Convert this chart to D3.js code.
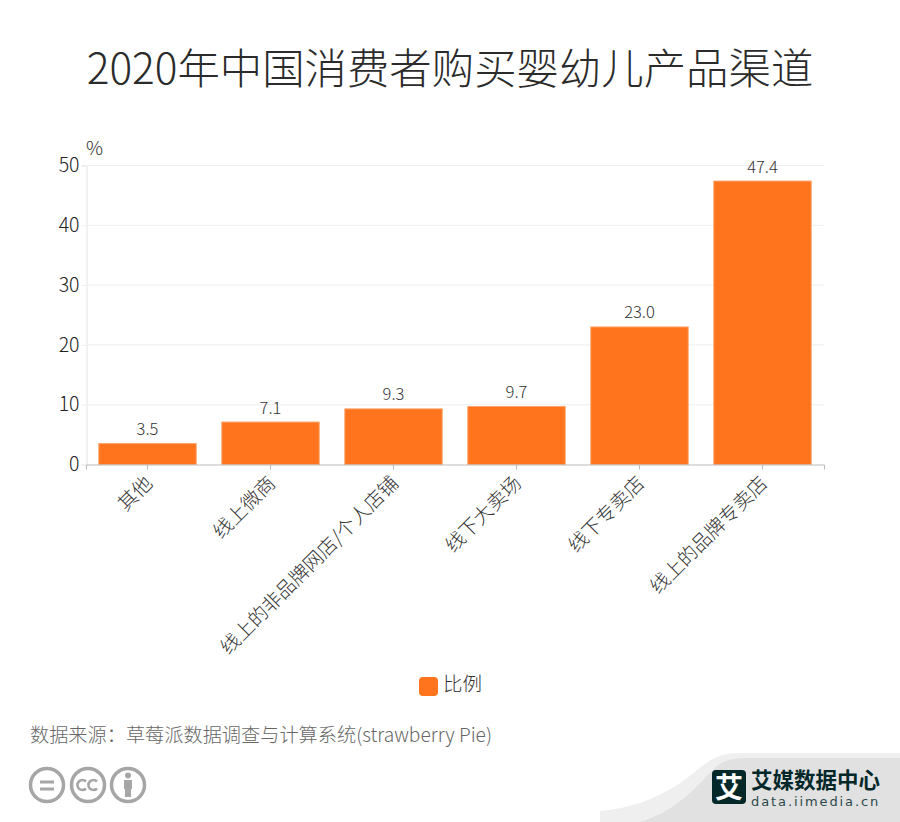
<!DOCTYPE html>
<html lang="zh-CN">
<head>
  <meta charset="UTF-8">
  <title>2020年中国消费者购买婴幼儿产品渠道</title>
  <script src="https://d3js.org/d3.v7.min.js"></script>
  <style>
    html, body { margin: 0; padding: 0; background: #fff; }
    svg { display: block; }
    text { font-family: "Noto Sans CJK SC", "Noto Sans", sans-serif; font-weight: 300; }
  </style>
</head>
<body>
  <svg width="900" height="822"></svg>

  <script>
    const categories = ["其他", "线上微商", "线上的非品牌网店/个人店铺", "线下大卖场", "线下专卖店", "线上的品牌专卖店"];
    const values = [3.5, 7.1, 9.3, 9.7, 23.0, 47.4];
    const yTicks = [0, 10, 20, 30, 40, 50];
    const seriesName = "比例";

    const orange = "#ff741d";
    const svg = d3.select("svg");

    const x = d3.scaleBand().domain(categories).range([86, 824]).paddingInner(0.2).paddingOuter(0.1);
    const y = d3.scaleLinear().domain([0, 50]).range([464, 165]);

    // title
    svg.append("text")
      .attr("x", 450).attr("y", 84)
      .attr("text-anchor", "middle")
      .attr("font-size", 42.4)
      .attr("fill", "#2b2b2b")
      .text("2020年中国消费者购买婴幼儿产品渠道");

    // unit
    svg.append("text")
      .attr("x", 86).attr("y", 155)
      .attr("font-size", 19)
      .attr("fill", "#333")
      .text("%");

    // grid
    svg.append("g").selectAll("line")
      .data(yTicks.filter(d => d > 0))
      .enter().append("line")
      .attr("x1", 86).attr("x2", 824)
      .attr("y1", d => y(d) + 0.5).attr("y2", d => y(d) + 0.5)
      .attr("stroke", "#eeeeee");

    // y axis
    const yAxis = svg.append("g")
      .attr("transform", "translate(86.5,0.5)")
      .call(d3.axisLeft(y).tickValues(yTicks).tickSize(5).tickPadding(2).tickFormat(d3.format("d")));
    yAxis.select(".domain").attr("stroke", "#eeeeee").attr("stroke-width", 1.5);
    yAxis.selectAll(".tick line").attr("stroke", "#eeeeee");
    yAxis.selectAll(".tick text").attr("fill", "#222").attr("font-size", 19.5);

    // bars
    svg.append("g").selectAll("rect")
      .data(values)
      .enter().append("rect")
      .attr("x", (d, i) => x(categories[i]) + 0.5)
      .attr("width", x.bandwidth() - 1)
      .attr("y", d => y(d) + 0.5)
      .attr("height", d => y(0) - y(d))
      .attr("fill", orange)
      .attr("stroke", "#ffa36a")
      .attr("stroke-width", 1);

    // value labels
    svg.append("g").selectAll("text")
      .data(values)
      .enter().append("text")
      .attr("x", (d, i) => x(categories[i]) + x.bandwidth() / 2)
      .attr("y", d => y(d) - 8)
      .attr("text-anchor", "middle")
      .attr("font-size", 16.5)
      .attr("fill", "#333")
      .text(d => d.toFixed(1));

    // x axis
    const xAxis = svg.append("g")
      .attr("transform", "translate(0,464.5)")
      .call(d3.axisBottom(x).tickSize(5).tickPadding(0));
    xAxis.select(".domain").attr("stroke", "#bbbbbb");
    xAxis.selectAll(".tick line").attr("stroke", "#bbbbbb");
    xAxis.selectAll(".tick text")
      .attr("fill", "#333")
      .attr("font-size", 19.5)
      .attr("text-anchor", "end")
      .attr("dy", null)
      .attr("y", 0)
      .attr("transform", "translate(6,20) rotate(-45)");

    // legend
    svg.append("rect")
      .attr("x", 419).attr("y", 677).attr("width", 19).attr("height", 19).attr("rx", 4)
      .attr("fill", orange);
    svg.append("text")
      .attr("x", 443).attr("y", 691)
      .attr("font-size", 19.5)
      .attr("fill", "#333")
      .text(seriesName);

    // source
    svg.append("text")
      .attr("x", 30).attr("y", 742)
      .attr("font-size", 19.2)
      .attr("fill", "#666")
      .text("数据来源：草莓派数据调查与计算系统(strawberry Pie)");

    // cc badges
    const badges = svg.append("g").attr("fill", "none").attr("stroke", "#a6a6a6").attr("stroke-width", 3.5);
    [47, 88, 128].forEach(cx => badges.append("circle").attr("cx", cx).attr("cy", 785).attr("r", 16.5));
    badges.append("path").attr("stroke-width", 3).attr("d", "M40 782H54M40 789H54");
    badges.append("path").attr("stroke-width", 2.6).attr("d", "M86 781.5a5 5 0 1 0 0 7M97 781.5a5 5 0 1 0 0 7");
    svg.append("circle").attr("cx", 128).attr("cy", 775.5).attr("r", 3).attr("fill", "#a6a6a6");
    svg.append("path").attr("fill", "#a6a6a6").attr("d", "M124 780H132V789H131V797H125V789H124Z");

    // footer
    svg.append("path").attr("fill", "#efefef")
      .attr("d", "M600 811C660 806 690 775 705 764C720 753 730 753 745 753H900V822H600Z");
    svg.append("path").attr("fill", "#e1e1e1")
      .attr("d", "M640 822C680 810 700 782 716 767C725 759 735 758 750 758H900V822Z");
    svg.append("rect").attr("x", 712).attr("y", 770).attr("width", 34).attr("height", 34).attr("rx", 4).attr("fill", "#04282a");
    svg.append("text")
      .attr("x", 729).attr("y", 798).attr("text-anchor", "middle")
      .attr("font-size", 28).style("font-weight", 700).attr("fill", "#fff").text("艾");
    svg.append("text")
      .attr("x", 751).attr("y", 788)
      .attr("font-size", 21.5).style("font-weight", 700).attr("fill", "#04282a").text("艾媒数据中心");
    svg.append("text")
      .attr("x", 751).attr("y", 806)
      .attr("font-size", 13).attr("letter-spacing", 1.9).attr("fill", "#2c4a4b")
      .style("font-family", "'DejaVu Sans'").style("font-weight", 400).text("data.iimedia.cn");
  </script>
</body>
</html>
